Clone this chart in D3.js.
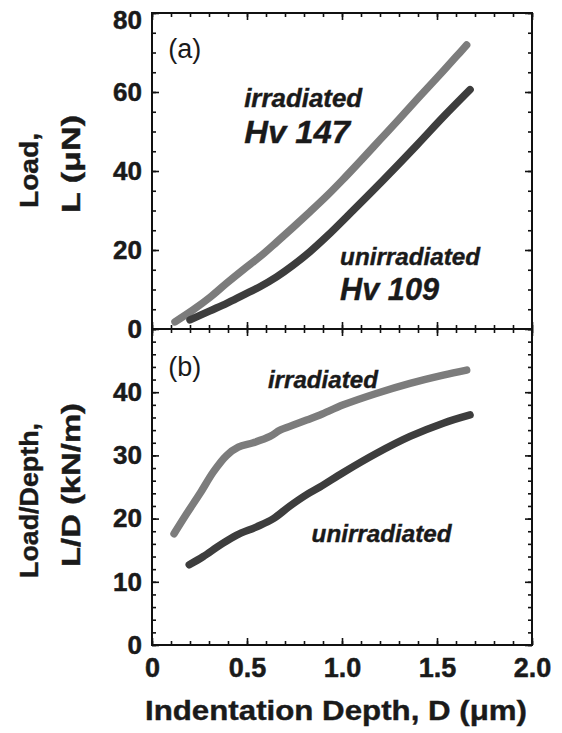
<!DOCTYPE html>
<html><head><meta charset="utf-8">
<script src="https://cdn.jsdelivr.net/npm/d3@7"></script>
<style>
html,body{margin:0;padding:0;background:#fff;}
svg{display:block;font-family:"Liberation Sans",Arial,Helvetica,sans-serif;}
</style></head>
<body>
<svg id="chart" width="562" height="733"></svg>
<script>
// ---- data ----
const depthIrrA = [0.121, 0.218, 0.305, 0.393, 0.48, 0.568, 0.656, 0.744, 0.832, 0.92, 1.0, 1.1, 1.2, 1.3, 1.4, 1.5, 1.6, 1.656];
const loadIrr   = [1.8, 4.9, 8.0, 11.6, 15.0, 18.3, 22.0, 25.8, 29.7, 33.7, 37.6, 42.7, 47.9, 53.1, 58.4, 63.6, 68.9, 71.9];
const depthUnA  = [0.2, 0.305, 0.393, 0.48, 0.568, 0.656, 0.744, 0.832, 0.919, 1.06, 1.217, 1.393, 1.533, 1.674];
const loadUn    = [2.3, 4.6, 6.5, 8.6, 10.7, 13.2, 16.2, 19.6, 23.4, 30.1, 37.7, 46.5, 53.7, 60.6];
const depthIrrB = [0.116, 0.183, 0.253, 0.323, 0.393, 0.454, 0.533, 0.621, 0.674, 0.744, 0.814, 0.884, 1.007, 1.18, 1.358, 1.533, 1.656];
const ldIrr     = [17.6, 20.8, 24.0, 27.4, 30.0, 31.3, 32.0, 33.0, 34.0, 34.8, 35.6, 36.4, 38.0, 39.8, 41.4, 42.7, 43.5];
const depthUnB  = [0.196, 0.27, 0.358, 0.446, 0.551, 0.639, 0.726, 0.814, 0.884, 1.007, 1.18, 1.358, 1.533, 1.674];
const ldUn      = [12.7, 14.0, 15.8, 17.4, 18.7, 20.0, 22.0, 23.8, 25.0, 27.3, 30.3, 33.0, 35.1, 36.4];

const xTicks      = [0, 0.5, 1.0, 1.5, 2.0];
const xTickLabels = ["0", "0.5", "1.0", "1.5", "2.0"];
const yTicksA     = [0, 20, 40, 60, 80];
const yTicksB     = [0, 10, 20, 30, 40];
const xMinor  = d3.range(0, 2.0001, 0.1);
const yMinorA = d3.range(0, 80.001, 5);
const yMinorB = d3.range(0, 50.001, 2);

// ---- layout ----
const svg = d3.select("#chart");
const L = 152, R = 532, T = 13, M = 329, B = 645;
const FONT = '"Liberation Sans",Arial,Helvetica,sans-serif';
const INK = "#1a1a1a";
const x  = d3.scaleLinear().domain([0, 2]).range([L, R]);
const yA = d3.scaleLinear().domain([0, 80]).range([M, T]);
const yB = d3.scaleLinear().domain([0, 50]).range([B, M]);

const MAJ = 7, MIN = 4;
function styleAxis(g, labels, size) {
  g.select(".domain").remove();
  g.selectAll(".tick line").attr("stroke", "#111").attr("stroke-width", 1.6);
  if (!labels) g.selectAll(".tick text").remove();
  else g.selectAll(".tick text").attr("font-size", size).attr("font-weight", "bold")
        .attr("font-family", FONT).attr("fill", INK)
        .attr("stroke", INK).attr("stroke-width", 0.5);
}
function drawAxes(y, yMajor, yMinor, showBottomLabels) {
  const y0 = y.range()[0], y1 = y.range()[1];
  svg.append("g").attr("transform", `translate(${L},0)`)
    .call(d3.axisLeft(y).tickValues(yMinor).tickSize(-MIN)).call(g => styleAxis(g, false));
  const gl = svg.append("g").attr("transform", `translate(${L},0)`)
    .call(d3.axisLeft(y).tickValues(yMajor).tickSize(-MAJ).tickPadding(10).tickFormat(d3.format("d")));
  styleAxis(gl, true, 26);
  svg.append("g").attr("transform", `translate(${R},0)`)
    .call(d3.axisRight(y).tickValues(yMinor).tickSize(-MIN)).call(g => styleAxis(g, false));
  svg.append("g").attr("transform", `translate(${R},0)`)
    .call(d3.axisRight(y).tickValues(yMajor).tickSize(-MAJ)).call(g => styleAxis(g, false));
  svg.append("g").attr("transform", `translate(0,${y0})`)
    .call(d3.axisBottom(x).tickValues(xMinor).tickSize(-MIN)).call(g => styleAxis(g, false));
  const gb = svg.append("g").attr("transform", `translate(0,${y0})`)
    .call(d3.axisBottom(x).tickValues(xTicks).tickSize(-MAJ).tickPadding(13)
      .tickFormat((d, i) => xTickLabels[i]));
  styleAxis(gb, showBottomLabels, 27);
  svg.append("g").attr("transform", `translate(0,${y1})`)
    .call(d3.axisTop(x).tickValues(xMinor).tickSize(-MIN)).call(g => styleAxis(g, false));
  svg.append("g").attr("transform", `translate(0,${y1})`)
    .call(d3.axisTop(x).tickValues(xTicks).tickSize(-MAJ)).call(g => styleAxis(g, false));
  svg.append("rect").attr("x", L).attr("y", y1).attr("width", R - L).attr("height", y0 - y1)
    .attr("fill", "none").attr("stroke", "#111").attr("stroke-width", 2);
  return {gl, gb};
}

const axA = drawAxes(yA, yTicksA, yMinorA, false);
axA.gl.selectAll(".tick text").filter(d => d === 80).attr("transform", "translate(0,7)");
const axB = drawAxes(yB, yTicksB, yMinorB, true);
axB.gb.selectAll(".tick text").attr("dy", "0.71em");

// ---- curves ----
const colLight = "#7c7c7c", colDark = "#3d3d3d";
function drawCurve(xs, ys, y, color) {
  const pts = xs.map((d, i) => [d, ys[i]]);
  const line = d3.line().x(d => x(d[0])).y(d => y(d[1])).curve(d3.curveCatmullRom.alpha(0.5));
  svg.append("path").datum(pts).attr("d", line).attr("fill", "none")
    .attr("stroke", color).attr("stroke-width", 7.5)
    .attr("stroke-linecap", "round").attr("stroke-linejoin", "round");
}
drawCurve(depthIrrA, loadIrr, yA, colLight);
drawCurve(depthUnA, loadUn, yA, colDark);
drawCurve(depthIrrB, ldIrr, yB, colLight);
drawCurve(depthUnB, ldUn, yB, colDark);

// ---- annotations ----
function label(txt, px, py, size, opts = {}) {
  const t = svg.append("text").attr("x", px).attr("y", py).text(txt)
    .attr("font-family", FONT).attr("font-size", size)
    .attr("font-weight", opts.weight || "bold").attr("font-style", opts.style || "normal")
    .attr("fill", INK);
  if (opts.len) t.attr("textLength", opts.len).attr("lengthAdjust", "spacingAndGlyphs");
  if ((opts.weight || "bold") === "bold") t.attr("stroke", INK).attr("stroke-width", 0.4);
}
label("(a)", x(0.085), yA(68.5), 27, {weight: "normal"});
label("(b)", x(0.085), yB(42.5), 27, {weight: "normal"});
label("irradiated", x(0.485), yA(56.2), 25, {style: "italic", len: 118});
label("Hv 147", x(0.485), yA(47.0), 32, {style: "italic", len: 106});
label("unirradiated", x(0.99), yA(16.2), 24, {style: "italic", len: 140});
label("Hv 109", x(0.99), yA(7.3), 32, {style: "italic", len: 99});
label("irradiated", x(0.61), yB(40.6), 24, {style: "italic", len: 110});
label("unirradiated", x(0.84), yB(16.3), 24, {style: "italic", len: 140});

// ---- axis titles ----
function rotTitle(txt, bx, yStart, len) {
  svg.append("text").attr("transform", `translate(${bx},${yStart}) rotate(-90)`)
    .attr("font-family", FONT).attr("font-size", 26).attr("font-weight", "bold")
    .attr("fill", INK).attr("stroke", INK).attr("stroke-width", 0.4)
    .attr("textLength", len).attr("lengthAdjust", "spacingAndGlyphs")
    .text(txt);
}
rotTitle("Load,", 38, 208, 75);
rotTitle("L  (\u03BCN)", 80, 213, 98);
rotTitle("Load/Depth,", 38, 578, 155);
rotTitle("L/D  (kN/m)", 80, 567, 164);

svg.append("text").attr("x", 145).attr("y", 720)
  .attr("font-family", FONT).attr("font-size", 28).attr("font-weight", "bold")
  .attr("fill", INK).attr("stroke", INK).attr("stroke-width", 0.4)
  .attr("textLength", 382).attr("lengthAdjust", "spacingAndGlyphs")
  .text("Indentation Depth, D (\u03BCm)");
</script>
</body></html>
